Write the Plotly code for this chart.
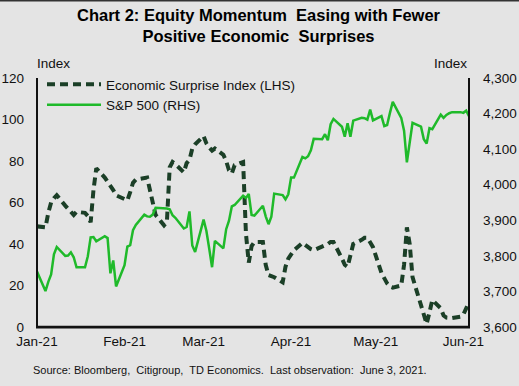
import plotly.graph_objects as go

# S&P 500 (RHS), weekday closes incl. holiday fills
spx_dates = [
    "2021-01-01", "2021-01-04", "2021-01-05", "2021-01-06", "2021-01-07", "2021-01-08",
    "2021-01-11", "2021-01-12", "2021-01-13", "2021-01-14", "2021-01-15",
    "2021-01-18", "2021-01-19", "2021-01-20", "2021-01-21", "2021-01-22",
    "2021-01-25", "2021-01-26", "2021-01-27", "2021-01-28", "2021-01-29",
    "2021-02-01", "2021-02-02", "2021-02-03", "2021-02-04", "2021-02-05",
    "2021-02-08", "2021-02-09", "2021-02-10", "2021-02-11", "2021-02-12",
    "2021-02-15", "2021-02-16", "2021-02-17", "2021-02-18", "2021-02-19",
    "2021-02-22", "2021-02-23", "2021-02-24", "2021-02-25", "2021-02-26",
    "2021-03-01", "2021-03-02", "2021-03-03", "2021-03-04", "2021-03-05",
    "2021-03-08", "2021-03-09", "2021-03-10", "2021-03-11", "2021-03-12",
    "2021-03-15", "2021-03-16", "2021-03-17", "2021-03-18", "2021-03-19",
    "2021-03-22", "2021-03-23", "2021-03-24", "2021-03-25", "2021-03-26",
    "2021-03-29", "2021-03-30", "2021-03-31", "2021-04-01", "2021-04-02",
    "2021-04-05", "2021-04-06", "2021-04-07", "2021-04-08", "2021-04-09",
    "2021-04-12", "2021-04-13", "2021-04-14", "2021-04-15", "2021-04-16",
    "2021-04-19", "2021-04-20", "2021-04-21", "2021-04-22", "2021-04-23",
    "2021-04-26", "2021-04-27", "2021-04-28", "2021-04-29", "2021-04-30",
    "2021-05-03", "2021-05-04", "2021-05-05", "2021-05-06", "2021-05-07",
    "2021-05-10", "2021-05-11", "2021-05-12", "2021-05-13", "2021-05-14",
    "2021-05-17", "2021-05-18", "2021-05-19", "2021-05-20", "2021-05-21",
    "2021-05-24", "2021-05-25", "2021-05-26", "2021-05-27", "2021-05-28",
    "2021-05-31", "2021-06-01", "2021-06-02", "2021-06-03",
]
spx_values = [
    3756, 3701, 3727, 3748, 3804, 3825,
    3800, 3801, 3810, 3796, 3768,
    3768, 3799, 3852, 3853, 3841,
    3855, 3850, 3751, 3787, 3714,
    3774, 3826, 3830, 3872, 3887,
    3916, 3911, 3910, 3916, 3935,
    3935, 3933, 3931, 3914, 3907,
    3877, 3881, 3925, 3829, 3811,
    3902, 3870, 3820, 3768, 3842,
    3821, 3875, 3899, 3939, 3943,
    3969, 3963, 3974, 3915, 3913,
    3941, 3911, 3889, 3910, 3975,
    3971, 3959, 3973, 4020, 4020,
    4078, 4074, 4080, 4097, 4129,
    4128, 4142, 4125, 4170, 4185,
    4163, 4135, 4173, 4135, 4180,
    4188, 4187, 4183, 4211, 4181,
    4193, 4165, 4168, 4202, 4233,
    4188, 4152, 4063, 4113, 4174,
    4163, 4128, 4116, 4159, 4156,
    4197, 4188, 4196, 4201, 4204,
    4204, 4202, 4208, 4193,
]

# Economic Surprise Index (LHS)
esi_dates = spx_dates
esi_values = [
    48.5, 48, 55, 60, 62, 63.5,
    58.5, 57, 55, 54, 55.5,
    55, 53.5, 50.5, 66, 76.5,
    72, 70, 68.5, 66, 63.5,
    61.5, 61, 65, 69.5, 71,
    72, 72, 66, 60, 54,
    49, 50.5, 77, 79.5, 78.5,
    74.5, 79, 80.5, 86, 88,
    92, 88.5, 86.5, 85, 86,
    83, 80, 75.5, 74, 78,
    79.5, 45, 31, 39, 41,
    41, 30, 25, 24.5, 24,
    21.5, 29, 33, 35.5, 37,
    40.5, 39.5, 38, 37.5, 37,
    38.5, 39, 40, 41, 41,
    33, 30, 29, 34, 40,
    42, 43, 43, 41, 38.5,
    26, 23, 21, 19.5, 19,
    20, 30, 48, 40, 24,
    11, 6, 1.5, 7, 13,
    9, 5.5, 4.5, 4.3, 4.3,
    5, 6, 9, 12,
]

month_ticks = ["2021-01-01", "2021-02-01", "2021-03-01", "2021-04-01", "2021-05-01", "2021-06-01"]
month_labels = ["Jan-21", "Feb-21", "Mar-21", "Apr-21", "May-21", "Jun-21"]

FONT = "Liberation Sans, Arial, sans-serif"
BG = "#e4e4e4"
AX = "#111111"
FS = 13.5

W, H = 519, 386
ML, MR, MT, MB = 37, 50, 78, 59
PW = W - ML - MR
PH = H - MT - MB


def py(pix):
    """pixel row from top -> paper y"""
    return (H - MB - pix) / PH


def px(pix):
    """pixel column from left -> paper x"""
    return (pix - ML) / PW


fig = go.Figure()
fig.add_trace(go.Scatter(
    x=esi_dates, y=esi_values, mode="lines", name="Economic Surprise Index (LHS)",
    line=dict(color="#1b3f27", width=4, dash="8px,5px"), yaxis="y",
))
fig.add_trace(go.Scatter(
    x=spx_dates, y=spx_values, mode="lines", name="S&P 500 (RHS)",
    line=dict(color="#1fba2a", width=2.5), yaxis="y2",
))

fig.update_layout(
    width=W, height=H,
    paper_bgcolor=BG, plot_bgcolor=BG,
    margin=dict(l=ML, r=MR, t=MT, b=MB, autoexpand=False),
    font=dict(family=FONT, size=FS, color="#111111"),
    showlegend=True,
    legend=dict(
        x=px(42), y=py(69), xanchor="left", yanchor="top",
        bgcolor="rgba(0,0,0,0)", font=dict(size=FS, family=FONT),
        tracegroupgap=0, itemwidth=54,
    ),
    xaxis=dict(
        type="date", range=["2021-01-01", "2021-06-03"],
        tickvals=month_ticks, ticktext=month_labels,
        showgrid=False, zeroline=False, automargin=False, showline=False,
        ticks="", ticklabelstandoff=4,
        tickfont=dict(size=FS, family=FONT),
    ),
    yaxis=dict(
        range=[0, 120], dtick=20, showgrid=False, zeroline=False, automargin=False,
        showline=False, ticks="", ticklabelstandoff=12,
        tickfont=dict(size=FS, family=FONT),
    ),
    yaxis2=dict(
        range=[3600, 4300], dtick=100, tickformat=",",
        overlaying="y", side="right", showgrid=False, zeroline=False, automargin=False,
        showline=False, ticks="", ticklabelstandoff=13,
        tickfont=dict(size=FS, family=FONT),
    ),
    annotations=[
        dict(text="<b>Chart 2: Equity Momentum  Easing with Fewer<br>Positive Economic  Surprises</b>",
             xref="paper", yref="paper", x=px(259), y=py(25),
             xanchor="center", yanchor="middle", showarrow=False,
             font=dict(family=FONT, size=16.5, color="#000000")),
        dict(text="Index", xref="paper", yref="paper", x=px(35), y=py(64),
             xanchor="left", yanchor="middle", showarrow=False, font=dict(size=FS)),
        dict(text="Index", xref="paper", yref="paper", x=px(469), y=py(64),
             xanchor="right", yanchor="middle", showarrow=False, font=dict(size=FS)),
        dict(text="Source: Bloomberg,  Citigroup,  TD Economics.  Last observation:  June 3, 2021.",
             xref="paper", yref="paper", x=px(31), y=py(370),
             xanchor="left", yanchor="middle", showarrow=False, font=dict(size=11)),
    ],
    shapes=[
        # dark frame line at the top edge of the image
        dict(type="rect", xref="paper", yref="paper", x0=px(0), x1=px(W), y0=py(1.5), y1=py(0),
             fillcolor="#333333", line=dict(width=0), layer="above"),
        # left axis line
        dict(type="rect", xref="paper", yref="paper", x0=px(36), x1=px(38), y0=0, y1=1,
             fillcolor=AX, line=dict(width=0), layer="above"),
        # right axis line
        dict(type="rect", xref="paper", yref="paper", x0=px(468), x1=px(470), y0=0, y1=1,
             fillcolor=AX, line=dict(width=0), layer="above"),
        # bottom axis line
        dict(type="rect", xref="paper", yref="paper", x0=px(36), x1=px(470), y0=py(328.5), y1=py(325.8),
             fillcolor=AX, line=dict(width=0), layer="above"),
    ],
)

fig.write_html("out.html", config={"displayModeBar": False},
               post_script="document.body.style.margin='0';")
